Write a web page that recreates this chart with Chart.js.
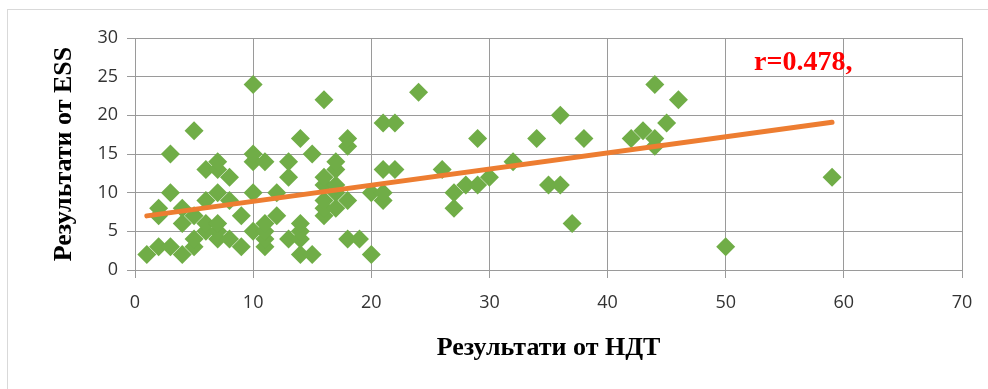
<!DOCTYPE html>
<html>
<head>
<meta charset="utf-8">
<script src="https://cdn.jsdelivr.net/npm/chart.js@4/dist/chart.umd.min.js"></script>
<style>
  html, body { margin: 0; padding: 0; background: #fff; }
  #wrap { position: relative; width: 988px; height: 389px; }
</style>
</head>
<body>
<div id="wrap"><canvas id="chart"></canvas></div>
<script>
// НДТ score (x) and ESS score (y) per respondent
const ndt = [1, 2, 2, 2, 3, 3, 3, 4, 4, 4, 5, 5, 5, 5, 6, 6, 6, 6, 7, 7,
             7, 7, 7, 7, 8, 8, 8, 9, 9, 10, 10, 10, 10, 10, 11, 11, 11, 11, 11, 12,
             12, 13, 13, 13, 14, 14, 14, 14, 14, 15, 15, 16, 16, 16, 16, 16, 16, 17, 17, 17,
             17, 17, 18, 18, 18, 18, 19, 20, 20, 21, 21, 21, 21, 22, 22, 24, 26, 27, 27, 28,
             29, 29, 30, 32, 34, 35, 36, 36, 37, 38, 42, 43, 44, 44, 44, 45, 46, 50, 59];
const ess = [2, 3, 7, 8, 3, 10, 15, 2, 6, 8, 3, 4, 7, 18, 5, 6, 9, 13, 4, 5,
             6, 10, 13, 14, 4, 9, 12, 3, 7, 5, 10, 14, 15, 24, 3, 4, 5, 6, 14, 7,
             10, 4, 12, 14, 2, 4, 5, 6, 17, 2, 15, 7, 8, 9, 11, 12, 22, 8, 10, 11,
             13, 14, 4, 9, 16, 17, 4, 2, 10, 9, 10, 13, 19, 13, 19, 23, 13, 8, 10, 11,
             11, 17, 12, 14, 17, 11, 11, 20, 6, 17, 17, 18, 16, 17, 24, 19, 22, 3, 12];

// linear trend line, ends
const trendX = [1, 59];
const trendY = [7.0, 19.1];

const xTicks = [0, 10, 20, 30, 40, 50, 60, 70];
const yTicks = [0, 5, 10, 15, 20, 25, 30];
const rLabel = "r=0.478,";

const points = ndt.map((x, i) => ({ x: x, y: ess[i] }));
const trend = trendX.map((x, i) => ({ x: x, y: trendY[i] }));

const gridGray = "#9a9a9a";

const frame = {
    id: "frame",
    beforeDraw(chart) {
        const ctx = chart.ctx;
        ctx.save();
        ctx.strokeStyle = "#d9d9d9";
        ctx.lineWidth = 1;
        ctx.strokeRect(7.5, 9.5, 1000, 400);
        ctx.restore();
    },
    afterDraw(chart) {
        const ctx = chart.ctx;
        const xs = chart.scales.x, ys = chart.scales.y;
        ctx.save();
        ctx.fillStyle = "#ff0000";
        ctx.font = "bold 28px 'Liberation Serif'";
        ctx.textBaseline = "alphabetic";
        ctx.fillText(rLabel, xs.getPixelForValue(52.4), ys.getPixelForValue(25.9));
        ctx.restore();
    }
};

new Chart(document.getElementById("chart"), {
    type: "scatter",
    data: {
        datasets: [
            {
                label: "trend",
                type: "line",
                data: trend,
                borderColor: "#ed7d31",
                borderWidth: 5,
                borderCapStyle: "round",
                pointRadius: 0,
                fill: false,
                order: 0
            },
            {
                label: "ESS",
                data: points,
                pointStyle: "rectRot",
                pointRadius: 9.5,
                backgroundColor: "#70ad47",
                borderColor: "#70ad47",
                borderWidth: 0,
                order: 1
            }
        ]
    },
    options: {
        responsive: true,
        maintainAspectRatio: false,
        animation: false,
        layout: { padding: { left: 49, top: 38, right: 26, bottom: 25 } },
        plugins: {
            legend: { display: false },
            tooltip: { enabled: false }
        },
        scales: {
            x: {
                type: "linear",
                min: 0,
                max: 70,
                afterBuildTicks: (s) => { s.ticks = xTicks.map(v => ({ value: v })); },
                afterFit: (s) => { s.height = 94; },
                grid: { color: gridGray, tickColor: gridGray, tickLength: 8 },
                border: { color: gridGray },
                ticks: { color: "#333", padding: 14, font: { family: "'Open Sans'", size: 18 } },
                title: {
                    display: true,
                    text: "Результати от НДТ",
                    color: "#000",
                    padding: 0,
                    font: { family: "'Liberation Serif'", size: 26, weight: "bold" }
                }
            },
            y: {
                type: "linear",
                min: 0,
                max: 30,
                afterBuildTicks: (s) => { s.ticks = yTicks.map(v => ({ value: v })); },
                afterFit: (s) => { s.width = 86; },
                grid: { color: gridGray, tickColor: gridGray, tickLength: 8 },
                border: { color: gridGray },
                ticks: { color: "#333", padding: 9, font: { family: "'Open Sans'", size: 18 } },
                title: {
                    display: true,
                    text: "Результати от ESS",
                    color: "#000",
                    padding: 0,
                    font: { family: "'Liberation Serif'", size: 26, weight: "bold" }
                }
            }
        }
    },
    plugins: [frame]
});
</script>
</body>
</html>
